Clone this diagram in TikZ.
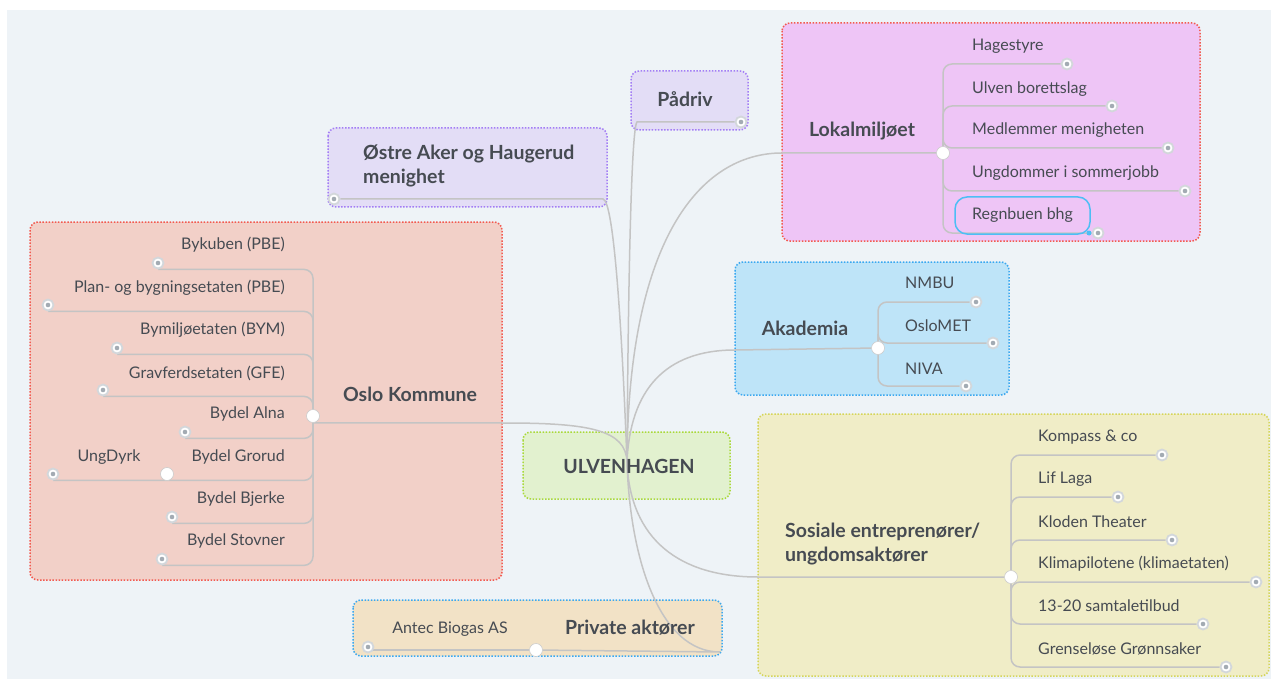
\documentclass[tikz,border=0pt]{standalone}
\usepackage{fontspec}
\setmainfont{Lato}
\pgfdeclarelayer{boxes}
\pgfdeclarelayer{links}
\pgfsetlayers{boxes,links,main}
\definecolor{bgc}{HTML}{EEF3F7}
\definecolor{txtc}{HTML}{464B52}
\definecolor{linec}{HTML}{C4C4C4}
\definecolor{ringc}{HTML}{D3D7DB}
\definecolor{dotc}{HTML}{A3ABB3}
\definecolor{hubr}{HTML}{CCCCCC}
\definecolor{cenf}{HTML}{E2F1CF}
\definecolor{cenb}{HTML}{A9D93A}
\definecolor{lokf}{HTML}{EEC5F6}
\definecolor{redb}{HTML}{F25A50}
\definecolor{oslf}{HTML}{F2D0C8}
\definecolor{akaf}{HTML}{BEE4F8}
\definecolor{blub}{HTML}{3AA8F0}
\definecolor{sosf}{HTML}{F0EDC7}
\definecolor{yelb}{HTML}{D5D55A}
\definecolor{prif}{HTML}{F2E2C6}
\definecolor{purf}{HTML}{E3DDF6}
\definecolor{purb}{HTML}{A37DF5}
\definecolor{selb}{HTML}{4DBEF5}
\begin{document}
\begin{tikzpicture}[x=1pt,y=-1pt,
  grp/.style={rounded corners=8pt,line width=1.5pt,dash pattern=on 1.5pt off 1.6pt},
  conn/.style={draw=linec,line width=1.5pt},
  branch/.style={conn,rounded corners=9pt},
  endc/.style={circle,fill=white,draw=ringc,line width=1.8pt,inner sep=0pt,minimum size=11pt,
    path picture={\fill[dotc] (path picture bounding box.center) circle (2.3pt);}},
  hubc/.style={circle,fill=white,draw=hubr,line width=0.6pt,inner sep=0pt,minimum size=13pt},
  ttl/.style={text=txtc,font=\bfseries\fontsize{19.5}{24}\selectfont,inner sep=0pt},
  itm/.style={text=txtc,font=\fontsize{16}{19}\selectfont,inner sep=0pt},
]
\useasboundingbox (0,0) rectangle (1271,679);

% ---------- group boxes ----------
\begin{pgfonlayer}{boxes}
\fill[bgc] (7,10) rectangle (1271,679);
\path[grp,fill=cenf,draw=cenb] (523,432) rectangle (730,499);
\path[grp,fill=purf,draw=purb] (631,71) rectangle (748,130);
\path[grp,fill=purf,draw=purb] (328,128) rectangle (607,207);
\path[grp,fill=lokf,draw=redb] (782,23) rectangle (1200,241);
\path[grp,fill=akaf,draw=blub] (735,262) rectangle (1009,395);
\path[grp,fill=sosf,draw=yelb] (758,414) rectangle (1269,676);
\path[grp,fill=prif,draw=blub] (353,600) rectangle (722,656);
\path[grp,fill=oslf,draw=redb] (30,222) rectangle (502,580);
\end{pgfonlayer}

% ---------- centre ----------
\coordinate (c) at (627,462);
\node[ttl] (ulv) at (629,466) {ULVENHAGEN};

% ---------- Pådriv ----------
\node[ttl] (pad) at (685,99) {Pådriv};
\node[endc] (padc) at (741,122) {};

% ---------- Østre Aker ----------
\node[ttl,anchor=west,align=left] (ost) at (363,166) {Østre Aker og Haugerud\\menighet};
\node[endc] (ostc) at (334,199) {};

% ---------- Lokalmiljøet ----------
\node[ttl] (lok) at (862,131) {Lokalmiljøet};
\node[hubc] (hl) at (943,153) {};
\node[endc] (l1) at (1067,64) {};
\node[endc] (l2) at (1112,106) {};
\node[endc] (l3) at (1168,148) {};
\node[endc] (l4) at (1185,191) {};
\node[endc] (l5) at (1098,233) {};
\node[itm,anchor=west] (lt1) at (972,46) {Hagestyre};
\node[itm,anchor=west] (lt2) at (972,89) {Ulven borettslag};
\node[itm,anchor=west] (lt3) at (972,130) {Medlemmer menigheten};
\node[itm,anchor=west] (lt4) at (972,173) {Ungdommer i sommerjobb};
\node[itm,anchor=west] (lt5) at (972,215) {Regnbuen bhg};
\draw[selb,line width=1.5pt,rounded corners=12pt] (955,197) rectangle (1090,234);
\fill[selb] (1089,233) circle (2.5pt);

% ---------- Akademia ----------
\node[ttl] (aka) at (805,328) {Akademia};
\node[hubc] (ha) at (878,348) {};
\node[endc] (a1) at (976,302) {};
\node[endc] (a2) at (993,343) {};
\node[endc] (a3) at (966,386) {};
\node[itm,anchor=west] (at1) at (905,283) {NMBU};
\node[itm,anchor=west] (at2) at (905,326) {OsloMET};
\node[itm,anchor=west] (at3) at (905,369) {NIVA};

% ---------- Sosiale ----------
\node[ttl,anchor=west,align=left] (sos) at (785,544) {Sosiale entreprenører/\\ungdomsaktører};
\node[hubc] (hs) at (1011,577) {};
\node[endc] (s1) at (1162,455) {};
\node[endc] (s2) at (1118,497) {};
\node[endc] (s3) at (1172,540) {};
\node[endc] (s4) at (1256,582) {};
\node[endc] (s5) at (1203,624) {};
\node[endc] (s6) at (1226,667) {};
\node[itm,anchor=west] (st1) at (1038,437) {Kompass \& co};
\node[itm,anchor=west] (st2) at (1038,479) {Lif Laga};
\node[itm,anchor=west] (st3) at (1038,522) {Kloden Theater};
\node[itm,anchor=west] (st4) at (1038,564) {Klimapilotene (klimaetaten)};
\node[itm,anchor=west] (st5) at (1038,606) {13-20 samtaletilbud};
\node[itm,anchor=west] (st6) at (1038,649) {Grenseløse Grønnsaker};

% ---------- Private aktører ----------
\node[ttl] (pri) at (630,628) {Private aktører};
\node[hubc] (hp) at (536,650) {};
\node[endc] (p1) at (368,647) {};
\node[itm] (pt1) at (450,629) {Antec Biogas AS};
\coordinate (pedge) at (720,652);

% ---------- Oslo Kommune ----------
\node[ttl] (osl) at (410,394) {Oslo Kommune};
\node[hubc] (ho) at (313,416) {};
\node[endc] (o1) at (158,263) {};
\node[endc] (o2) at (48,305) {};
\node[endc] (o3) at (117,348) {};
\node[endc] (o4) at (103,390) {};
\node[endc] (o5) at (185,432) {};
\node[hubc] (og) at (167,474) {};
\node[endc] (o6) at (53,474) {};
\node[endc] (o7) at (172,517) {};
\node[endc] (o8) at (162,559) {};
\node[itm,anchor=east] (ot1) at (285,245) {Bykuben (PBE)};
\node[itm,anchor=east] (ot2) at (285,288) {Plan- og bygningsetaten (PBE)};
\node[itm,anchor=east] (ot3) at (285,330) {Bymiljøetaten (BYM)};
\node[itm,anchor=east] (ot4) at (285,373) {Gravferdsetaten (GFE)};
\node[itm,anchor=east] (ot5) at (285,414) {Bydel Alna};
\node[itm,anchor=east] (ot6) at (285,457) {Bydel Grorud};
\node[itm] (ot6a) at (109,457) {UngDyrk};
\node[itm,anchor=east] (ot7) at (285,499) {Bydel Bjerke};
\node[itm,anchor=east] (ot8) at (285,541) {Bydel Stovner};

% ---------- connectors ----------
\begin{pgfonlayer}{links}
% main branches
\draw[conn] (padc) -- (637,122) .. controls (631,128) and (628,300) .. (c);
\draw[conn] (ostc) -- (603,199) .. controls (614,201) and (622,330) .. (c);
\draw[conn] (hl) -- (782,153) .. controls (700,153) and (628,240) .. (c);
\draw[conn] (ha) -- (735,350) .. controls (665,350) and (630,390) .. (c);
\draw[conn] (hs) -- (758,577) .. controls (680,577) and (630,540) .. (c);
\draw[conn] (hp) -- (pedge) .. controls (660,652) and (630,560) .. (c);
\draw[conn] (ho.south) -- (505,423) .. controls (590,423) and (626,430) .. (c);
% Lokalmiljøet
\foreach \n in {l1,l2,l3,l4,l5} \draw[branch] (hl) |- (\n);
% Akademia
\foreach \n in {a1,a2,a3} \draw[branch] (ha) |- (\n);
% Sosiale
\foreach \n in {s1,s2,s3,s4,s5,s6} \draw[branch] (hs) |- (\n);
% Private
\draw[conn] (hp) -- (hp -| p1);
% Oslo
\foreach \n in {o1,o2,o3,o4,o5,o6,o7,o8} \draw[branch] (ho) |- (\n.south);
\end{pgfonlayer}
\end{tikzpicture}
\end{document}
